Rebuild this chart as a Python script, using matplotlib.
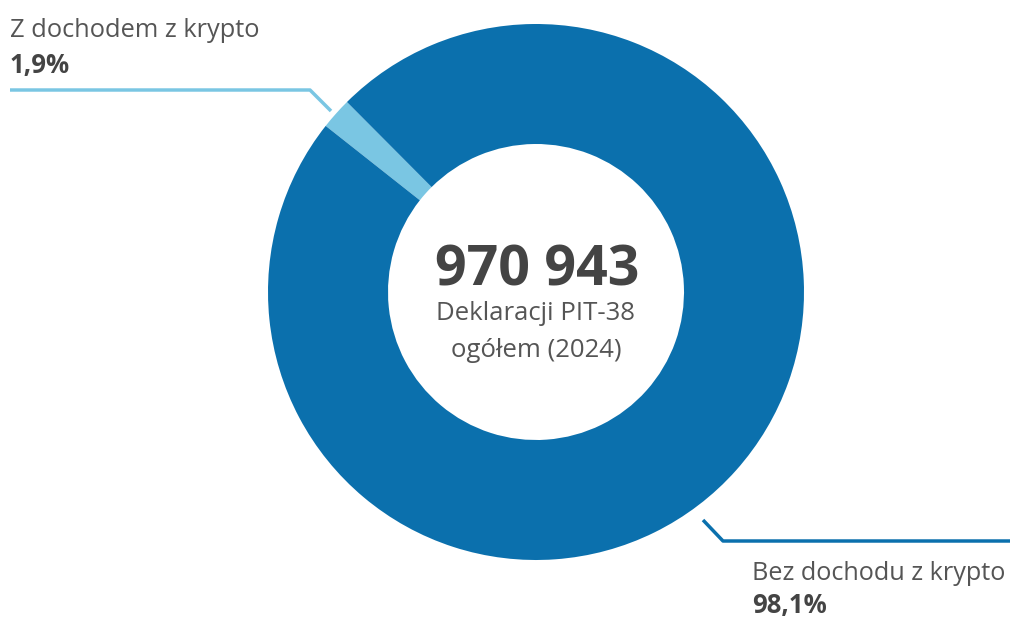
import matplotlib
matplotlib.use("Agg")
import matplotlib.pyplot as plt

labels = ["Z dochodem z krypto", "Bez dochodu z krypto"]
shares = [1.9, 98.1]
share_labels = ["1,9%", "98,1%"]
colors = ["#7AC6E3", "#0B70AD"]
total_text = "970 943"
center_lines = ["Deklaracji PIT-38", "ogółem (2024)"]

W, H = 1010, 619
fig = plt.figure(figsize=(W / 100, H / 100), dpi=100)
ax = fig.add_axes([0, 0, 1, 1])
ax.set_xlim(0, W)
ax.set_ylim(0, H)
ax.set_aspect("equal")
ax.axis("off")

cx, cy = 536, H - 292
R = 268
ax.pie(shares, colors=colors, startangle=141.7, counterclock=False,
       center=(cx, cy), radius=R, frame=True,
       wedgeprops=dict(width=120, linewidth=0))
ax.set_xlim(0, W)
ax.set_ylim(0, H)
ax.axis("off")

font = "Open Sans"
txt = "#555555"
# leader lines
ax.plot([10, 310, 331], [H - 90, H - 90, H - 111], color=colors[0], lw=2.5,
        solid_capstyle="butt")
ax.plot([703, 723, W], [H - 520, H - 541, H - 541], color=colors[1], lw=2.5,
        solid_capstyle="butt")

ax.text(10, H - 37, labels[0], fontsize=18.3, color=txt, family=font,
        ha="left", va="baseline")
ax.text(10, H - 73, share_labels[0], fontsize=18.5, color="#444444", family=font,
        fontweight="bold", ha="left", va="baseline")
ax.text(752, H - 580, labels[1], fontsize=18.2, color=txt, family=font,
        ha="left", va="baseline")
ax.text(752, H - 613, share_labels[1], fontsize=18.5, color="#444444", family=font,
        fontweight="bold", ha="left", va="baseline")

ax.text(cx + 1, H - 285, total_text, fontsize=40, color="#444444", family=font,
        fontweight="bold", ha="center", va="baseline")
ax.text(cx, H - 320, center_lines[0], fontsize=18.5, color=txt, family=font,
        ha="center", va="baseline")
ax.text(cx, H - 357, center_lines[1], fontsize=18.5, color=txt, family=font,
        ha="center", va="baseline")

fig.savefig("out.png", dpi=100, facecolor="white")
